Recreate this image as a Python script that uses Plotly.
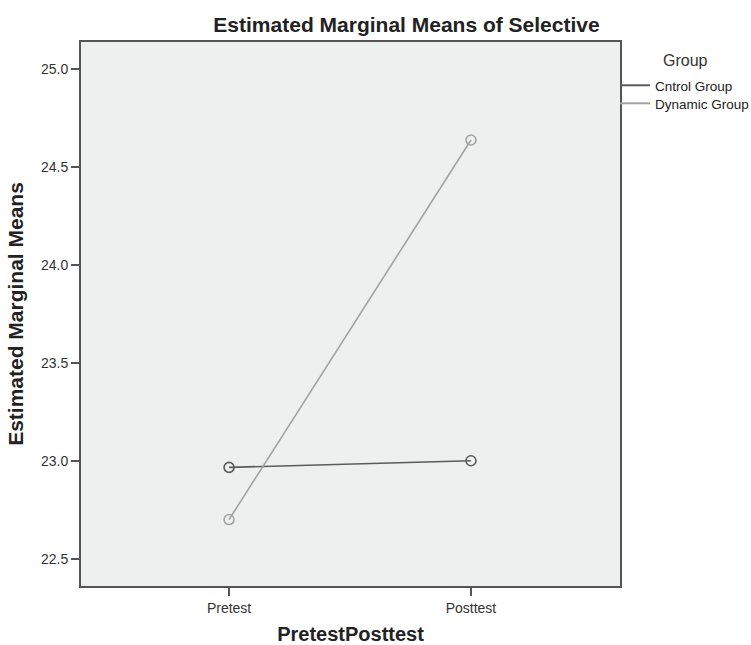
import plotly.graph_objects as go

categories = ["Pretest", "Posttest"]
control_means = [22.966, 23.0]
dynamic_means = [22.70, 24.636]
series_names = ["Cntrol Group", "Dynamic Group"]
legend_title = "Group"
y_ticks = [22.5, 23.0, 23.5, 24.0, 24.5, 25.0]
y_tick_labels = ["22.5", "23.0", "23.5", "24.0", "24.5", "25.0"]

colors = ["#5b5b5b", "#a3a3a3"]
legend_ids = ["legend", "legend2"]
FONT = "Liberation Sans, Arial, sans-serif"

W, H = 751, 645
ML, MR, MT, MB = 81, 131, 42, 59
PH = H - MT - MB
PW = W - ML - MR


def py(pix):
    """paper y from pixel row"""
    return 1 - (pix - MT) / PH


def px(pix):
    return (pix - ML) / PW


fig = go.Figure()
for name, vals, col, lg in zip(series_names, [control_means, dynamic_means], colors, legend_ids):
    fig.add_trace(go.Scatter(
        x=[0, 1], y=vals, mode="lines+markers", name=name, showlegend=False,
        line=dict(color=col, width=1.6),
        marker=dict(symbol="circle-open", size=10, color=col, line=dict(width=1.6, color=col)),
    ))
    fig.add_trace(go.Scatter(
        x=[None], y=[None], mode="lines", name=name, legend=lg,
        line=dict(color=col, width=2),
    ))

legend_common = dict(
    xanchor="left", yanchor="middle",
    font=dict(size=13.5, color="#222222"),
    bgcolor="rgba(0,0,0,0)", itemwidth=30, borderwidth=0,
)

fig.update_layout(
    width=W, height=H,
    margin=dict(l=ML, r=MR, t=MT, b=MB, autoexpand=False),
    paper_bgcolor="white",
    plot_bgcolor="#eef0f0",
    font=dict(family=FONT, size=14, color="#333333"),
    title=dict(text="<b>Estimated Marginal Means of Selective</b>", x=406.5 / W, xanchor="center",
               y=1 - 25 / H, yanchor="middle", font=dict(size=21, color="#222222")),
    showlegend=True,
    legend=dict(x=px(615), y=py(85.5), **legend_common),
    legend2=dict(x=px(615), y=py(103.5), **legend_common),
    annotations=[dict(
        text=legend_title, xref="paper", yref="paper", x=px(685.5), y=py(60.5),
        xanchor="center", yanchor="middle", showarrow=False,
        font=dict(size=16, color="#333333"),
    )],
    xaxis=dict(
        range=[-0.612, 1.616], tickvals=[0, 1], ticktext=categories,
        showgrid=False, zeroline=False, automargin=False,
        showline=True, mirror=True, linecolor="#555555", linewidth=2,
        ticks="outside", ticklen=8, tickwidth=2, tickcolor="#555555",
        tickfont=dict(size=14, color="#333333"),
        title=dict(text="<b>PretestPosttest</b>", font=dict(size=20, color="#222222"), standoff=14),
    ),
    yaxis=dict(
        range=[22.361, 25.136], tickvals=y_ticks, ticktext=y_tick_labels,
        showgrid=False, zeroline=False, automargin=False,
        showline=True, mirror=True, linecolor="#555555", linewidth=2,
        ticks="outside", ticklen=8, tickwidth=2, tickcolor="#555555",
        tickfont=dict(size=14, color="#333333"),
        title=dict(text="<b>Estimated Marginal Means</b>", font=dict(size=21, color="#222222"), standoff=12),
    ),
)

fig.write_html("out.html", config={"displayModeBar": False},
               post_script="document.body.style.margin='0px';")
